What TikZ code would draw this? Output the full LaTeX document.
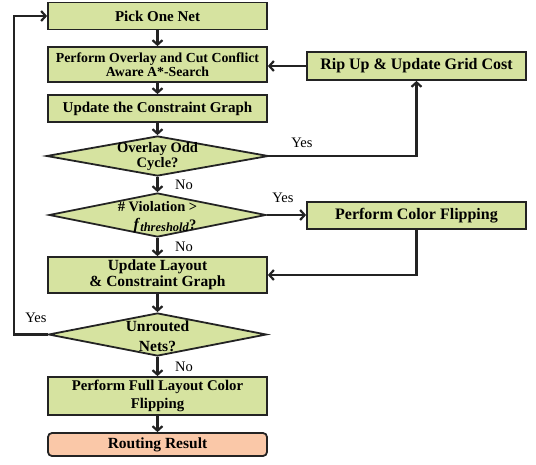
\documentclass[tikz,border=0pt]{standalone}
\usepackage{fontspec}
\setmainfont{Liberation Serif}
\usetikzlibrary{shapes.geometric,arrows.meta}
\definecolor{boxgreen}{RGB}{214,227,160}
\definecolor{boxsalmon}{RGB}{250,200,168}
\definecolor{edgec}{RGB}{35,35,35}
\begin{document}
\begin{tikzpicture}[x=1pt,y=-1pt,
  proc/.style={draw=edgec,line width=1.8pt,fill=boxgreen,inner sep=0pt,align=center,
    minimum width=219pt,font=\bfseries\fontsize{15}{17}\selectfont},
  resbox/.style={proc,fill=boxsalmon,rounded corners=4pt},
  diam/.style={draw=edgec,line width=1.8pt,fill=boxgreen,shape=diamond,inner sep=0pt},
  dtext/.style={align=center,inner sep=0pt,font=\bfseries\fontsize{14.5}{15}\selectfont},
  lab/.style={inner sep=0pt,font=\fontsize{14.5}{15}\selectfont},
  arr/.style={draw=edgec,line width=2.2pt,-{Straight Barb[length=4.5pt,width=10pt]}}
]
\useasboundingbox (0,0) rectangle (536,464);

\node[proc,minimum height=27pt] (pick) at (157.5,16) {Pick One Net};
\node[proc,minimum height=35pt,font=\bfseries\fontsize{13.8}{14.5}\selectfont] (overlay) at (157.5,64.5) {Perform Overlay and Cut Conflict\\Aware A*-Search};
\node[proc,minimum height=27pt] (ugraph) at (157.5,108.5) {Update the Constraint Graph};
\node[proc,minimum height=28pt,font=\bfseries\fontsize{16}{17}\selectfont] (rip) at (416.5,66) {Rip Up \& Update Grid Cost};

\node[diam,minimum width=222pt,minimum height=40pt] (d1) at (157.5,156) {};
\node[dtext] (d1t) at (157.5,157) {Overlay Odd\\Cycle?};

\node[diam,minimum width=217pt,minimum height=44pt] (d2) at (157.5,215) {};
\node[dtext] (d2ta) at (157.5,206.5) {\# Violation >};
\node[dtext,anchor=base] (d2tb) at (165,229) {{\fontsize{16}{16}\selectfont\textit{f}}\raisebox{-2.5pt}{\fontsize{12.5}{13}\selectfont\textit{threshold}}?};

\node[proc,minimum height=27pt,font=\bfseries\fontsize{16}{17}\selectfont] (flip) at (416.5,215.5) {Perform Color Flipping};

\node[proc,minimum height=36pt,font=\bfseries\fontsize{15.5}{16.5}\selectfont] (ulay) at (157.5,275) {Update Layout\\\& Constraint Graph};

\node[diam,minimum width=218pt,minimum height=43pt] (d3) at (157.5,334.5) {};
\node[dtext,font=\bfseries\fontsize{15.5}{20}\selectfont] (d3t) at (157.5,336) {Unrouted\\Nets?};

\node[proc,minimum height=38pt,font=\bfseries\fontsize{14.8}{17.5}\selectfont] (full) at (157.5,396) {Perform Full Layout Color\\Flipping};
\node[resbox,minimum height=23pt,font=\bfseries\fontsize{15.5}{17}\selectfont] (result) at (157.5,444.5) {Routing Result};

\coordinate (loopc) at (14,334.5);

\draw[arr] (pick) -- (overlay);
\draw[arr] (overlay) -- (ugraph);
\draw[arr] (ugraph) -- (d1);
\draw[arr] (d1) -- (d2);
\draw[arr] (d2) -- (ulay);
\draw[arr] (ulay) -- (d3);
\draw[arr] (d3) -- (full);
\draw[arr] (full) -- (result);
\draw[arr] (rip.west) -- (overlay.east |- rip.west);
\draw[arr] (d1.east) -| (rip.south);
\draw[arr] (d2.east) -- (flip.west |- d2.east);
\draw[arr] (flip.south) |- (ulay.east);
\draw[arr] (d3.west) -- (loopc) |- (pick.west);

\node[lab] (no1) at (184,185) {No};
\node[lab] (no2) at (184,247) {No};
\node[lab] (no3) at (184,367) {No};
\node[lab] (yes1) at (302,143) {Yes};
\node[lab] (yes2) at (283,198) {Yes};
\node[lab] (yes3) at (36,318) {Yes};
\end{tikzpicture}
\end{document}
